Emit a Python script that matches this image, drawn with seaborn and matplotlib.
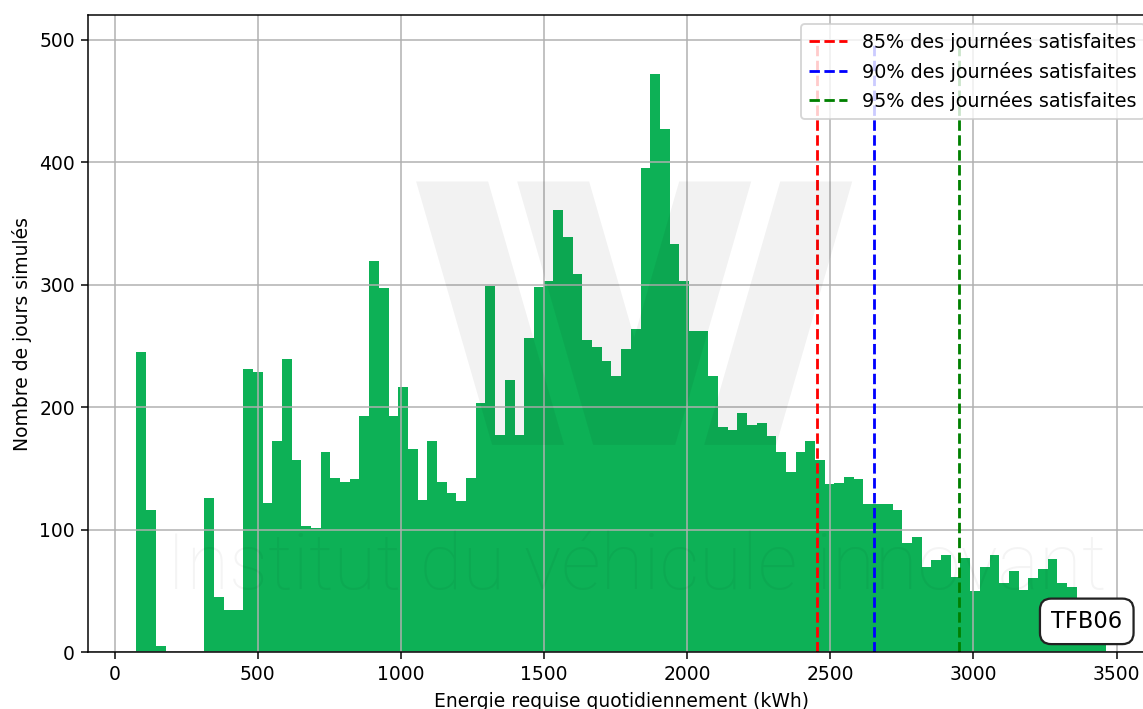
import numpy as np
import pandas as pd
import matplotlib
matplotlib.use("Agg")
import matplotlib.pyplot as plt
from matplotlib.patches import Polygon
import seaborn as sns

# Simulated daily energy demand: 100 equal-width bins between these bounds
energy_min_kwh = 76.0
energy_max_kwh = 3462.5
day_counts = [
    245, 116, 5, 0, 0, 0, 0, 126, 45, 34,
    34, 231, 229, 122, 172, 239, 157, 103, 101, 163,
    142, 139, 141, 193, 319, 297, 193, 216, 166, 124,
    172, 139, 130, 123, 142, 203, 299, 177, 222, 177,
    256, 298, 303, 361, 339, 309, 255, 249, 238, 225,
    247, 264, 395, 472, 427, 333, 303, 262, 262, 225,
    184, 181, 195, 185, 187, 176, 163, 147, 163, 172,
    157, 137, 138, 143, 141, 121, 121, 121, 116, 89,
    94, 69, 75, 79, 61, 77, 50, 69, 79, 56,
    66, 51, 60, 68, 76, 56, 53, 44, 40, 30,
]

# Energy thresholds covering a given share of simulated days
threshold_labels = [
    "85% des journées satisfaites",
    "90% des journées satisfaites",
    "95% des journées satisfaites",
]
threshold_kwh = [2454, 2651, 2948]
threshold_colors = ["red", "blue", "green"]

vehicle_id = "TFB06"
watermark_text = "Institut du véhicule innovant"

n_bins = len(day_counts)
edges = np.linspace(energy_min_kwh, energy_max_kwh, n_bins + 1)
centers = (edges[:-1] + edges[1:]) / 2
df = pd.DataFrame({"energie": centers, "jours": day_counts})

W, H, DPI = 1143, 709, 135
fig = plt.figure(figsize=((W + 0.3) / DPI, (H + 0.3) / DPI), dpi=DPI)
ax = fig.add_axes([88 / W, 1 - 652 / H, (1154 - 88) / W, (652 - 15) / H])

sns.histplot(data=df, x="energie", weights="jours", bins=n_bins,
             binrange=(energy_min_kwh, energy_max_kwh),
             color="#0db156", alpha=1, linewidth=0, ax=ax)

# Threshold markers reach the top of the histogram's autoscaled range
line_top = ax.get_ylim()[1]
for xv, col, lab in zip(threshold_kwh, threshold_colors, threshold_labels):
    ax.vlines(xv, 0, line_top, colors=col, linestyles="--", linewidth=1.5, label=lab)

ax.grid(True)
ax.set_xlabel("Energie requise quotidiennement (kWh)")
ax.set_ylabel("Nombre de jours simulés")
ax.legend(loc="upper right", fontsize=10.2)

ax.text(0.97, 0.03, vehicle_id, transform=ax.transAxes, ha="right", va="bottom",
        fontsize=12,
        bbox=dict(boxstyle="round,pad=0.5", facecolor="white", edgecolor="#222222",
                  linewidth=1.2))


# Faint logo watermark, laid out in pixel units from the top-left corner
def to_fig(points):
    return [(x / W, 1 - y / H) for x, y in points]


logo_top, logo_bottom = 181.7, 445.0
logo_shapes = [
    [(416, logo_top), (488, logo_top), (564, logo_bottom), (492, logo_bottom)],
    [(517, logo_top), (589, logo_top), (634, 337.6), (679, logo_top),
     (751, logo_top), (675, logo_bottom), (593, logo_bottom)],
    [(780, logo_top), (852, logo_top), (776, logo_bottom), (704, logo_bottom)],
]
for shape in logo_shapes:
    fig.add_artist(Polygon(to_fig(shape), closed=True, transform=fig.transFigure,
                           facecolor="black", edgecolor="none", alpha=0.05, zorder=5))

fig.text(165.5 / W, 1 - 588.3 / H, watermark_text, family="Roboto",
         fontweight=100, fontsize=41.7, color="black", alpha=0.045,
         ha="left", va="baseline", zorder=5)

fig.savefig("out.png", dpi=DPI)
